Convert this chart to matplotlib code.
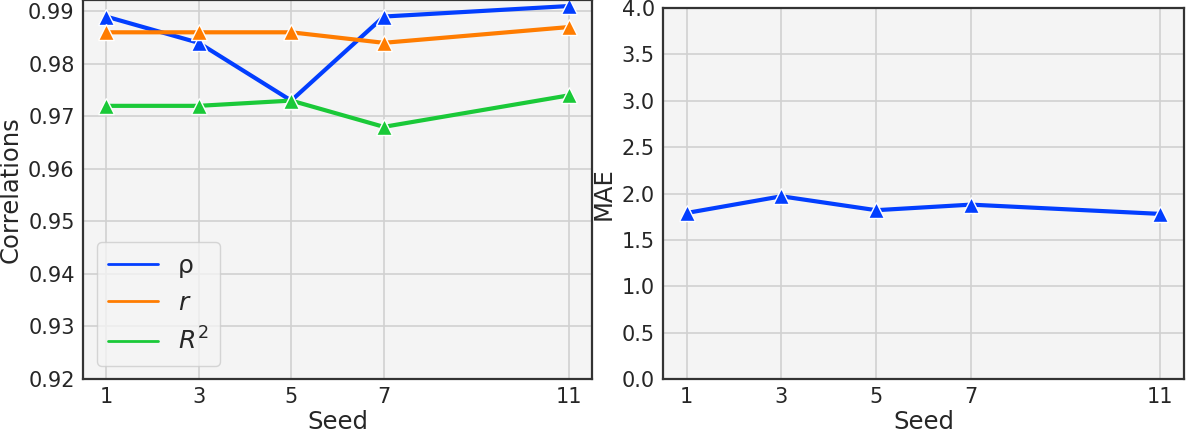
import numpy as np
import matplotlib.pyplot as plt
import seaborn as sns

seeds = [1, 3, 5, 7, 11]
rho = [0.989, 0.984, 0.973, 0.989, 0.991]
pearson_r = [0.986, 0.986, 0.986, 0.984, 0.987]
r2 = [0.972, 0.972, 0.973, 0.968, 0.974]
mae = [1.79, 1.97, 1.82, 1.88, 1.78]

sns.set_style("whitegrid")
plt.rcParams['font.family'] = ['DejaVu Sans']
colors = sns.color_palette("bright")

W, H = 1186, 433
fig = plt.figure(figsize=(W / 100, H / 100), dpi=100)


def px_axes(x0, y0, x1, y1):
    return fig.add_axes([x0 / W, 1 - y1 / H, (x1 - x0) / W, (y1 - y0) / H])


ax1 = px_axes(83, 0, 592, 379)
ax2 = px_axes(663, 8, 1184, 379)

style = dict(lw=3, marker='^', markersize=11, markeredgecolor='white',
             markeredgewidth=1)
ax1.plot(seeds, rho, color=colors[0], label='ρ', **style)
ax1.plot(seeds, pearson_r, color=colors[1], label='$r$', **style)
ax1.plot(seeds, r2, color=colors[2], label='$R^2$', **style)
ax1.set_ylim(0.92, 0.99215)
ax1.set_yticks(np.arange(0.92, 0.9901, 0.01))
ax1.set_ylabel('Correlations', fontsize=17.5)

ax2.plot(seeds, mae, color=colors[0], **style)
ax2.set_ylim(0, 4.0)
ax2.set_yticks(np.arange(0, 4.01, 0.5))
ax2.set_ylabel('MAE', fontsize=17.5)

for ax in (ax1, ax2):
    ax.set_facecolor('#f4f4f4')
    ax.set_xlim(0.5, 11.5)
    ax.set_xticks(seeds)
    ax.set_xlabel('Seed', fontsize=17.5, labelpad=2)
    ax.grid(True, color='#d0d0d0', lw=1.2)
    ax.tick_params(axis='both', labelsize=15, length=0, pad=6, colors='#262626')
    for s in ax.spines.values():
        s.set_color('#333333')
        s.set_linewidth(1.6)

ax1.yaxis.set_major_formatter(plt.FormatStrFormatter('%.2f'))
ax2.yaxis.set_major_formatter(plt.FormatStrFormatter('%.1f'))

leg = ax1.legend(loc='lower left', fontsize=18, handlelength=2.0,
                 borderpad=0.45, labelspacing=0.52, handletextpad=0.8,
                 borderaxespad=0, bbox_to_anchor=(0.0275, 0.034),
                 facecolor='#f4f4f4', framealpha=0.8)
for line in leg.get_lines():
    line.set_linewidth(2)
    line.set_marker('')

fig.savefig('out.png', dpi=100)
